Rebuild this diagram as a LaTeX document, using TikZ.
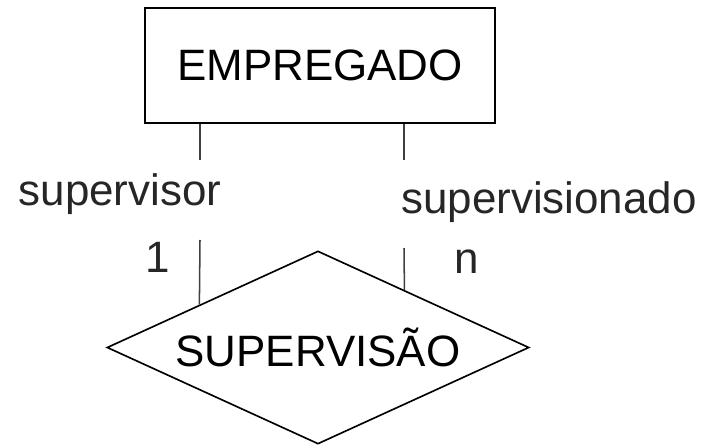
\documentclass[tikz,border=0pt]{standalone}
\usepackage{fontspec}
\setmainfont{Liberation Sans}
\usetikzlibrary{shapes.geometric,calc}

\tikzset{
	entidade/.style = {draw, line width = 1.6pt, minimum width = 10.5cm, minimum height = 3.45cm, inner sep = 0},
	relacao/.style = {draw, diamond, shape aspect = 2.19, line width = 1.4pt, minimum width = 12.66cm, minimum height = 5.79cm, inner sep = 0},
	ligacao/.style = {black!75, line width = 1.3pt},
	rotulo/.style = {anchor = base, inner sep = 0, text = black!85}
}

\begin{document}
\begin{tikzpicture}[x = 0.03cm, y = -0.03cm, font = \fontsize{37.5}{45}\selectfont]
				\useasboundingbox (0, 0) rectangle (701, 446);
				
				%	entidade en relatie
				\node[entidade] (emp) at (320, 65.5) {EMPREGADO};
				\node[relacao] (sup) at (318, 347.5) {\raisebox{-0.12em}{SUPERVISÃO}};
				
				%	lijnstukken
				\coordinate (lbov) at (200, 160);
				\coordinate (lbon) at (200, 240);
				\coordinate (rbov) at (404, 160);
				\coordinate (rbon) at (404, 248);
				
				\draw[ligacao] (emp.south -| lbov) -- (lbov);
				\draw[ligacao] (lbon) -- ($(sup.west)!0.44!(sup.north)$);
				\draw[ligacao] (emp.south -| rbov) -- (rbov);
				\draw[ligacao] (rbon) -- ($(sup.north)!0.408!(sup.east)$);
				
				%	rollen en kardinaliteiten
				\node[rotulo] (rol1) at (120, 205) {supervisor};
				\node[rotulo] (rol2) at (549, 213) {supervisionado};
				\node[rotulo] (card1) at (157.5, 272) {1};
				\node[rotulo] (card2) at (466.5, 273) {n};
\end{tikzpicture}
\end{document}
